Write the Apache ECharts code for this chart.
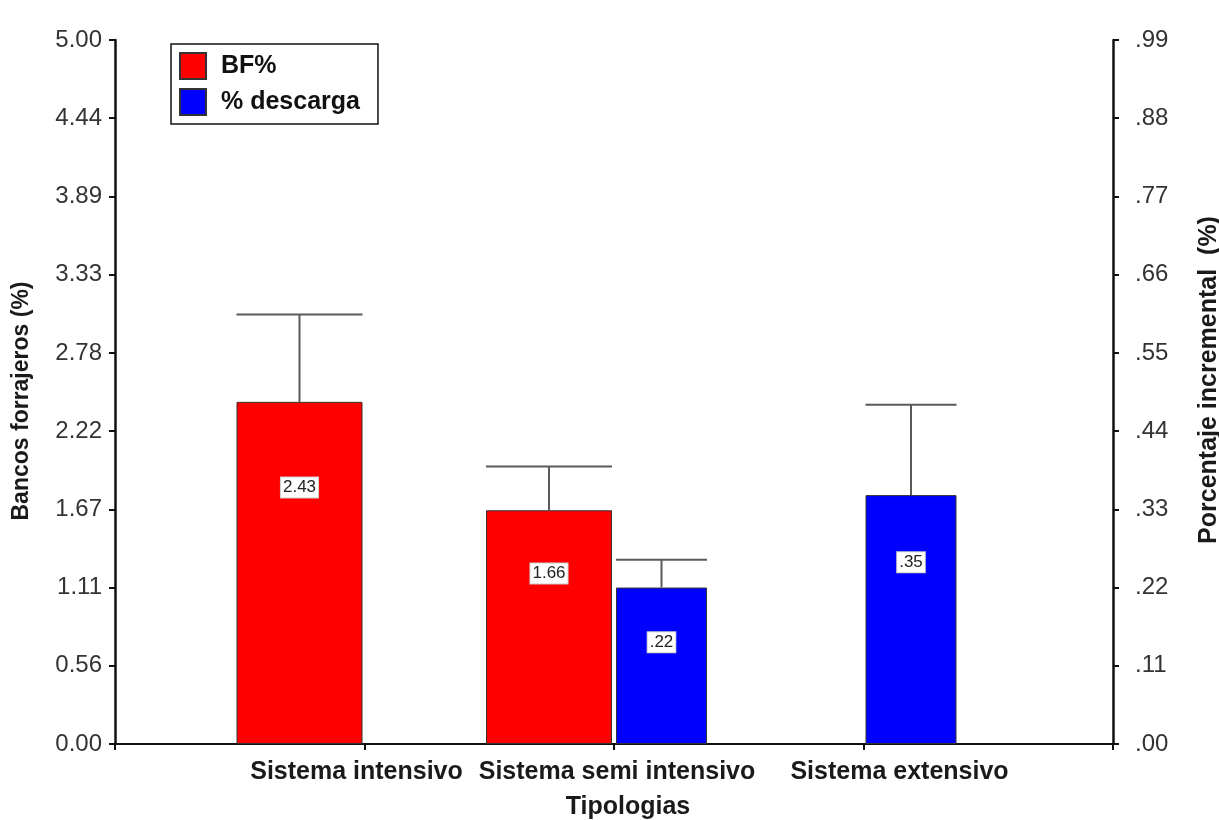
<!DOCTYPE html>
<html><head><meta charset="utf-8">
<script src="https://cdn.jsdelivr.net/npm/echarts@6/dist/echarts.min.js"></script>
<style>html,body{margin:0;padding:0;background:#fff}#c{width:1219px;height:820px}</style>
</head><body><div id="c"></div>
<script>
// ---- data ----
const categories = ['', 'Sistema intensivo', 'Sistema semi intensivo', 'Sistema extensivo', ''];
const seriesNames = ['BF%', '% descarga'];
const bfValues   = [null, 2.43, 1.66, null, null];
const bfUpper    = [null, 3.05, 1.97, null, null];
const descValues = [null, null, 0.22, 0.35, null];
const descUpper  = [null, null, 0.259, 0.477, null];
const leftTickLabels  = ['0.00','0.56','1.11','1.67','2.22','2.78','3.33','3.89','4.44','5.00'];
const rightTickLabels = ['.00','.11','.22','.33','.44','.55','.66','.77','.88','.99'];
const leftMax = 5.00, rightMax = 0.99;

// ---- styling constants ----
const FONT = '"Liberation Sans", Arial, sans-serif';
const RED_W = 126, BLUE_W = 91, GAP = 4;
const BAR_GAP = GAP / RED_W;
const SPACER_W = 2 * (RED_W + GAP / 2) - (RED_W + GAP + BLUE_W + BLUE_W * BAR_GAP);
const RED_OFF = -(GAP / 2 + RED_W / 2), BLUE_OFF = GAP / 2 + BLUE_W / 2;
const BF_LABEL_POS = ['26%', '25%', '27%', '26%', '26%'];
const DESC_LABEL_POS = ['30%', '30%', '35%', '27%', '30%'];

const nL = leftTickLabels.length - 1, nR = rightTickLabels.length - 1;
const leftTicks = leftTickLabels.map((_, i) => i * leftMax / nL);
const rightTicks = rightTickLabels.map((_, i) => i * rightMax / nR);

function errData(vals, ups) {
  return vals.map((v, i) => v == null ? null : [i, v, ups[i]]).filter(Boolean);
}
function errRender(offset, width) {
  return function (params, api) {
    const x = api.value(0), v = api.value(1), u = api.value(2);
    const p0 = api.coord([x, v]), p1 = api.coord([x, u]);
    const cx = p0[0] + offset;
    const st = { stroke: '#5a5a5a', lineWidth: 2 };
    return { type: 'group', children: [
      { type: 'line', shape: { x1: cx, y1: p0[1], x2: cx, y2: p1[1] }, style: st },
      { type: 'line', shape: { x1: cx - width / 2, y1: p1[1], x2: cx + width / 2, y2: p1[1] }, style: st }
    ]};
  };
}
const fmtLabel = v => (+v).toFixed(2).replace(/^0/, '');
const barLabel = pos => ({
  show: true, position: ['50%', pos], align: 'center', verticalAlign: 'middle',
  formatter: p => fmtLabel(p.value), fontFamily: FONT, fontSize: 17, color: '#222',
  backgroundColor: '#fff', borderColor: '#ccc', borderWidth: 1, padding: [2, 2, 1, 2]
});
function barData(vals, posArr) {
  return vals.map((v, i) => v == null ? null : { value: v, label: { position: ['50%', posArr[i]] } });
}
const labelShift = [0, -8, 3, 36, 0];
const rich = {};
labelShift.forEach((s, i) => {
  rich['s' + i] = { fontFamily: FONT, fontSize: 25, fontWeight: 'bold', color: '#1a1a1a',
    padding: s < 0 ? [0, -2 * s, 0, 0] : [0, 0, 0, 2 * s] };
});
const axisNameStyle = { fontFamily: FONT, fontWeight: 'bold', color: '#1a1a1a' };

const chart = echarts.init(document.getElementById('c'));
chart.setOption({
  backgroundColor: '#fff',
  animation: false,
  textStyle: { fontFamily: FONT },
  legend: {
    data: seriesNames, orient: 'vertical', left: 171, top: 44,
    itemWidth: 26, itemHeight: 26, itemGap: 8, padding: [8, 18, 8, 8],
    borderColor: '#111', borderWidth: 1.5, backgroundColor: '#fff', selectedMode: false,
    icon: 'rect',
    textStyle: { fontFamily: FONT, fontSize: 25, fontWeight: 'bold', color: '#111', padding: [0, 0, 0, 10] }
  },
  grid: { left: 115, right: 106, top: 40, bottom: 76, containLabel: false, outerBoundsMode: 'none' },
  xAxis: {
    type: 'category', data: categories, boundaryGap: false,
    axisLine: { lineStyle: { color: '#111', width: 2 } },
    axisTick: { show: true, length: 6, interval: 0, lineStyle: { color: '#111', width: 2 } },
    axisLabel: { interval: 0, margin: 16, formatter: (v, i) => '{s' + i + '|' + v + '}', rich: rich },
    splitLine: { show: false },
    name: 'Tipologias', nameLocation: 'middle', nameGap: 51,
    nameTextStyle: Object.assign({ fontSize: 25, padding: [0, 0, 0, 28] }, axisNameStyle)
  },
  yAxis: [
    {
      type: 'value', position: 'left', min: 0, max: leftMax,
      axisLine: { show: true, lineStyle: { color: '#111', width: 2.5 } },
      axisTick: { show: true, length: 6, customValues: leftTicks, lineStyle: { color: '#111', width: 2 } },
      axisLabel: { customValues: leftTicks, margin: 13, fontSize: 24, color: '#333', fontFamily: FONT,
        formatter: v => leftTickLabels[Math.round(v / leftMax * nL)] },
      splitLine: { show: false },
      name: 'Bancos forrajeros (%)', nameLocation: 'middle', nameGap: 82, nameRotate: 90,
      nameTextStyle: Object.assign({ fontSize: 23, padding: [0, 18, 0, 0] }, axisNameStyle)
    },
    {
      type: 'value', position: 'right', min: 0, max: rightMax,
      axisLine: { show: true, lineStyle: { color: '#111', width: 2.5 } },
      axisTick: { show: true, length: 6, customValues: rightTicks, lineStyle: { color: '#111', width: 2 } },
      axisLabel: { customValues: rightTicks, margin: 22, fontSize: 24, color: '#333', fontFamily: FONT,
        formatter: v => rightTickLabels[Math.round(v / rightMax * nR)] },
      splitLine: { show: false },
      name: 'Porcentaje incremental  (%)', nameLocation: 'middle', nameGap: 84, nameRotate: 90,
      nameTextStyle: Object.assign({ fontSize: 25, padding: [0, 0, 0, 24] }, axisNameStyle)
    }
  ],
  series: [
    {
      name: seriesNames[0], type: 'bar', yAxisIndex: 0, data: barData(bfValues, BF_LABEL_POS),
      barWidth: RED_W, barGap: (BAR_GAP * 100) + '%',
      itemStyle: { color: '#ff0000', borderColor: '#333', borderWidth: 1 },
      label: barLabel('26%')
    },
    {
      name: seriesNames[1], type: 'bar', yAxisIndex: 1, data: barData(descValues, DESC_LABEL_POS),
      barWidth: BLUE_W, barGap: (BAR_GAP * 100) + '%',
      itemStyle: { color: '#0000ff', borderColor: '#333', borderWidth: 1 },
      label: barLabel('30%')
    },
    {
      name: 'spacer', type: 'bar', yAxisIndex: 0, data: [],
      barWidth: SPACER_W, barGap: (BAR_GAP * 100) + '%', silent: true
    },
    {
      name: 'errBF', type: 'custom', yAxisIndex: 0, z: 5,
      data: errData(bfValues, bfUpper), renderItem: errRender(RED_OFF, RED_W)
    },
    {
      name: 'errDesc', type: 'custom', yAxisIndex: 1, z: 5,
      data: errData(descValues, descUpper), renderItem: errRender(BLUE_OFF, BLUE_W)
    }
  ]
});
</script>
</body></html>
